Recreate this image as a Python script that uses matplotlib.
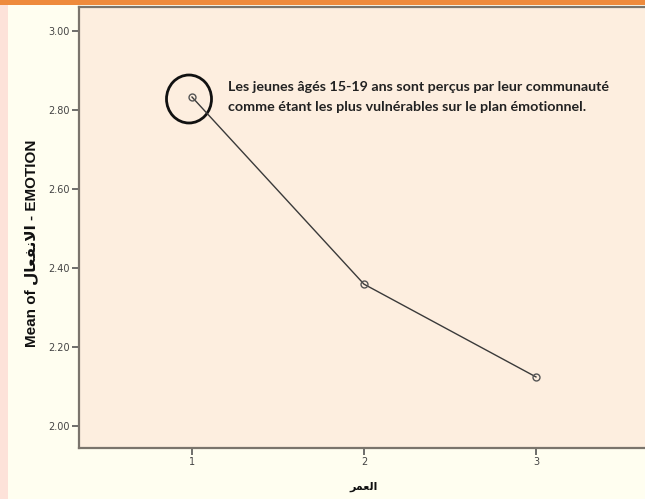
import matplotlib
matplotlib.use("Agg")
import matplotlib.pyplot as plt
from matplotlib.patches import Rectangle, Ellipse

# Data
age_groups = [1, 2, 3]
mean_emotion = [2.833, 2.359, 2.124]
y_ticks = [2.00, 2.20, 2.40, 2.60, 2.80, 3.00]
x_ticks = [1, 2, 3]
# Arabic labels written in presentation (shaped) forms, visual order
xlabel_text = "\uFEAE\uFEE4\uFECC\uFEDF\uFE8D"  # العمر
ylabel_text = "Mean of \uFEDD\uFE8E\uFECC\uFED4\uFEE7\uFEFB\uFE8D - EMOTION"  # الانفعال
annotation = ("Les jeunes âgés 15-19 ans sont perçus par leur communauté\n"
              "comme étant les plus vulnérables sur le plan émotionnel.")

W, H = 645, 499
fig = plt.figure(figsize=(W / 100, H / 100), dpi=100)
fig.patch.set_facecolor("#FFFEF0")
# decorative frame
fig.patches.append(Rectangle((0, 0), 8 / W, 1, transform=fig.transFigure,
                             facecolor="#FDE2D9", edgecolor="none", zorder=0))
fig.patches.append(Rectangle((0, 1 - 5 / H), 1, 5 / H, transform=fig.transFigure,
                             facecolor="#EE8A3C", edgecolor="none", zorder=0))

ax = fig.add_axes([79 / W, 1 - 448 / H, 571 / W, 441 / H])
ax.set_facecolor("#FDEEDF")
ax.plot(age_groups, mean_emotion, color="#3a3a3a", lw=1.0,
        marker="o", markersize=5, markerfacecolor="none",
        markeredgecolor="#555555", markeredgewidth=1.0)

ax.set_xlim(0.343, 3.663)
ax.set_ylim(1.944, 3.061)
ax.set_xticks(x_ticks)
ax.set_xticklabels([str(v) for v in x_ticks])
ax.set_yticks(y_ticks)
ax.set_yticklabels([f"{v:.2f}" for v in y_ticks])
ax.tick_params(axis="both", direction="out", length=5, width=1.2,
               color="#555555", labelsize=7, labelcolor="#444444", pad=1.5)
for s in ["left", "bottom", "top"]:
    ax.spines[s].set_color("#7a746c")
    ax.spines[s].set_linewidth(1.6)
ax.spines["right"].set_visible(False)

lab_font = ["Liberation Sans", "DejaVu Sans"]
ax.set_ylabel(ylabel_text, family=lab_font, fontweight="bold", fontsize=11,
              color="#111111")
ax.yaxis.set_label_coords(-0.072, 0.465)

fig.text(364 / W, 1 - 487 / H, xlabel_text, family=["DejaVu Sans"],
         fontweight="bold", fontsize=8, color="#111111",
         ha="center", va="center")

# Highlight circle around first point
ell = Ellipse((189, H - 99), 45, 48, transform=None, fill=False,
              edgecolor="#111111", lw=2.0)
ax.add_artist(ell)

fig.text(228 / W, 1 - 97 / H, annotation, family=["Lato", "DejaVu Sans"],
         fontweight="bold", fontsize=10.3, color="#222222",
         va="center", ha="left", linespacing=1.75)

fig.savefig("out.png", dpi=100, facecolor=fig.get_facecolor())
